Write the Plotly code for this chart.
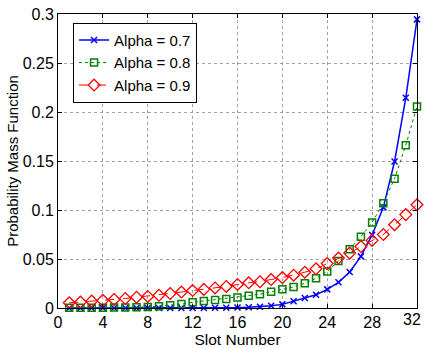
import plotly.graph_objects as go

slots = list(range(1, 33))
alpha_07 = [0, 0, 0, 0, 0, 0, 0, 0, 0, 0, 0, 0, 0, 0.0002, 0.0003, 0.0005,
            0.0008, 0.0013, 0.0022, 0.0037, 0.0068, 0.0102, 0.0135, 0.019,
            0.0262, 0.0368, 0.0527, 0.0745, 0.1027, 0.1495, 0.2145, 0.2945]
alpha_08 = [0.0002, 0.0002, 0.0003, 0.0003, 0.0004, 0.0005, 0.0007, 0.001,
            0.0018, 0.0027, 0.004, 0.0058, 0.0072, 0.0082, 0.0093, 0.0108,
            0.0124, 0.0141, 0.0166, 0.0191, 0.0215, 0.0253, 0.0303, 0.0373,
            0.048, 0.060, 0.0727, 0.0873, 0.107, 0.132, 0.166, 0.2057]
alpha_09 = [0.0053, 0.006, 0.007, 0.0078, 0.0087, 0.0097, 0.011, 0.0118,
            0.013, 0.0148, 0.0163, 0.0178, 0.019, 0.0205, 0.022, 0.024,
            0.0257, 0.0268, 0.029, 0.031, 0.0335, 0.0365, 0.040, 0.0453,
            0.051, 0.056, 0.0627, 0.069, 0.075, 0.085, 0.0953, 0.1053]

x_ticks = [0, 4, 8, 12, 16, 20, 24, 28, 32]
x_tick_labels = ["0", "4", "8", "12", "16", "20", "24", "28", ""]
last_x_label = "32"
y_ticks = [0, 0.05, 0.1, 0.15, 0.2, 0.25, 0.3]
y_tick_labels = ["0", "0.05", "0.1", "0.15", "0.2", "0.25", "0.3"]

font = "Liberation Sans, Arial, Helvetica, sans-serif"
tick_size = 16
title_size = 15

fig = go.Figure()
fig.add_trace(go.Scatter(
    x=slots, y=alpha_07, name="Alpha = 0.7", mode="lines+markers",
    line=dict(color="#0000ff", width=1.5, dash="solid"),
    marker=dict(symbol="x-thin-open", size=6, color="#0000ff",
                line=dict(color="#0000ff", width=1.5)),
    cliponaxis=False,
))
fig.add_trace(go.Scatter(
    x=slots, y=alpha_08, name="Alpha = 0.8", mode="lines+markers",
    line=dict(color="#008000", width=1, dash="dot"),
    marker=dict(symbol="square-open", size=7, color="#008000",
                line=dict(color="#008000", width=1.5)),
    cliponaxis=False,
))
fig.add_trace(go.Scatter(
    x=slots, y=alpha_09, name="Alpha = 0.9", mode="lines+markers",
    line=dict(color="#ff0000", width=1, dash="dash"),
    marker=dict(symbol="diamond-open", size=9, color="#ff0000",
                line=dict(color="#ff0000", width=1.3)),
    cliponaxis=False,
))

axis_common = dict(
    showline=True, linecolor="black", linewidth=1, mirror="ticks",
    ticks="inside", ticklen=4, tickcolor="black",
    showgrid=True, gridcolor="#a0a0a0", griddash="dot", gridwidth=1,
    zeroline=False, tickfont=dict(family=font, size=tick_size, color="black"),
)

fig.update_xaxes(range=[0, 32], tickvals=x_ticks, ticktext=x_tick_labels,
                 title=dict(text="Slot Number", font=dict(family=font, size=15.5, color="black"), standoff=0),
                 **axis_common)
fig.update_yaxes(range=[0, 0.3], tickvals=y_ticks, ticktext=y_tick_labels,
                 title=dict(text="Probability Mass Function", font=dict(family=font, size=title_size, color="black"), standoff=0),
                 **axis_common)

fig.add_annotation(x=32, y=0, xref="x", yref="y", text=last_x_label,
                   showarrow=False, xanchor="right", yanchor="top", yshift=-1, xshift=6,
                   font=dict(family=font, size=tick_size, color="black"))

fig.update_layout(
    width=424, height=348,
    margin=dict(l=58, r=6, t=10, b=38),
    paper_bgcolor="white", plot_bgcolor="white",
    font=dict(family=font, color="black"),
    legend=dict(x=0.042, y=0.97, xanchor="left", yanchor="top",
                bgcolor="white", bordercolor="black", borderwidth=1,
                font=dict(family=font, size=15, color="black"),
                tracegroupgap=0, itemwidth=30),
    showlegend=True,
)

fig.write_html("out.html")
